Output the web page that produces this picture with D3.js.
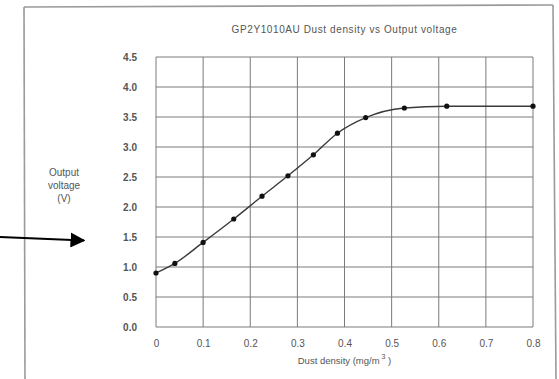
<!DOCTYPE html>
<html><head><meta charset="utf-8">
<script src="https://cdn.jsdelivr.net/npm/d3@7"></script>
<style>body{margin:0;background:#fff}svg{display:block}</style>
</head><body>
<script>
const density = [0, 0.04, 0.1, 0.165, 0.225, 0.28, 0.334, 0.385, 0.445, 0.527, 0.617, 0.8];
const voltage = [0.9, 1.06, 1.41, 1.8, 2.18, 2.52, 2.87, 3.23, 3.49, 3.65, 3.68, 3.68];
const xTicks = [0, 0.1, 0.2, 0.3, 0.4, 0.5, 0.6, 0.7, 0.8];
const xTickLabels = ["0", "0.1", "0.2", "0.3", "0.4", "0.5", "0.6", "0.7", "0.8"];
const yTicks = [0, 0.5, 1, 1.5, 2, 2.5, 3, 3.5, 4, 4.5];
const title = "GP2Y1010AU Dust density vs Output voltage";
const xTitle = "Dust density (mg/m";
const yTitleLines = ["Output", "voltage", "(V)"];

const W = 559, H = 379;
const svg = d3.select("body").append("svg").attr("width", W).attr("height", H)
  .style("font-family", "Liberation Sans, Arial, sans-serif");

// scanned frame
const fr = svg.append("g").attr("stroke", "#9a9a9a").attr("stroke-width", 1.6).attr("fill", "none");
fr.append("line").attr("x1", 24).attr("y1", 7).attr("x2", 25).attr("y2", H);
fr.append("line").attr("x1", 24).attr("y1", 7).attr("x2", 553).attr("y2", 5);
fr.append("line").attr("x1", 553).attr("y1", 5).attr("x2", 556).attr("y2", H);

const x = d3.scaleLinear().domain([0, 0.8]).range([156, 533]);
const y = d3.scaleLinear().domain([0, 4.5]).range([327, 57]);

// grid
const g = svg.append("g");
g.selectAll("line.v").data(xTicks).join("line").attr("class", "v")
  .attr("x1", d => x(d)).attr("x2", d => x(d)).attr("y1", y(0)).attr("y2", y(4.5))
  .attr("stroke", "#7a7a7a").attr("stroke-width", 1);
g.selectAll("line.h").data(yTicks).join("line").attr("class", "h")
  .attr("y1", d => y(d)).attr("y2", d => y(d)).attr("x1", x(0)).attr("x2", x(0.8))
  .attr("stroke", "#7a7a7a").attr("stroke-width", 1);

// axes labels via d3 axes (no domain/ticks lines)
const yAxis = svg.append("g").attr("transform", `translate(${x(0) - 16},0)`)
  .call(d3.axisLeft(y).tickValues(yTicks).tickFormat(d3.format(".1f")).tickSize(0));
yAxis.select(".domain").remove();
yAxis.selectAll("text").attr("fill", "#555").attr("font-size", 10).attr("font-weight", "bold")
  .style("font-family", "Liberation Sans, Arial, sans-serif");

const xAxis = svg.append("g").attr("transform", `translate(0,${y(0) + 10})`)
  .call(d3.axisBottom(x).tickValues(xTicks).tickFormat((d, i) => xTickLabels[i]).tickSize(0));
xAxis.select(".domain").remove();
xAxis.selectAll("text").attr("fill", "#555").attr("font-size", 10)
  .style("font-family", "Liberation Sans, Arial, sans-serif");

// title
svg.append("text").attr("x", (x(0) + x(0.8)) / 2).attr("y", 33).attr("text-anchor", "middle")
  .attr("font-size", 10).attr("letter-spacing", 0.6).attr("fill", "#555").text(title);

// x title
const xt = svg.append("text").attr("x", (x(0) + x(0.8)) / 2).attr("y", 364).attr("text-anchor", "middle")
  .attr("font-size", 9.5).attr("fill", "#555");
xt.append("tspan").text(xTitle);
xt.append("tspan").attr("dy", -5).attr("font-size", 7).text(" 3");
xt.append("tspan").attr("dy", 5).text(" )");

// y title
svg.append("g").selectAll("text").data(yTitleLines).join("text")
  .attr("x", 64).attr("y", (d, i) => 176 + i * 13).attr("text-anchor", "middle")
  .attr("font-size", 10).attr("fill", "#555").text(d => d);

// curve
const pts = density.map((d, i) => [d, voltage[i]]);
svg.append("path").datum(pts)
  .attr("d", d3.line().x(d => x(d[0])).y(d => y(d[1])).curve(d3.curveMonotoneX))
  .attr("fill", "none").attr("stroke", "#3a3a3a").attr("stroke-width", 1.4);
svg.append("g").selectAll("circle").data(pts).join("circle")
  .attr("cx", d => x(d[0])).attr("cy", d => y(d[1])).attr("r", 2.6).attr("fill", "#111");

// arrow annotation
svg.append("defs").append("marker").attr("id", "ah").attr("viewBox", "0 0 10 10")
  .attr("refX", 9).attr("refY", 5).attr("markerWidth", 7.5).attr("markerHeight", 7.5)
  .attr("markerUnits", "strokeWidth").attr("orient", "auto")
  .append("path").attr("d", "M0,0 L10,5 L0,10 Z").attr("fill", "#000");
svg.append("line").attr("x1", 0).attr("y1", 237).attr("x2", 84).attr("y2", 240.5)
  .attr("stroke", "#000").attr("stroke-width", 2).attr("marker-end", "url(#ah)");
</script>
</body></html>
